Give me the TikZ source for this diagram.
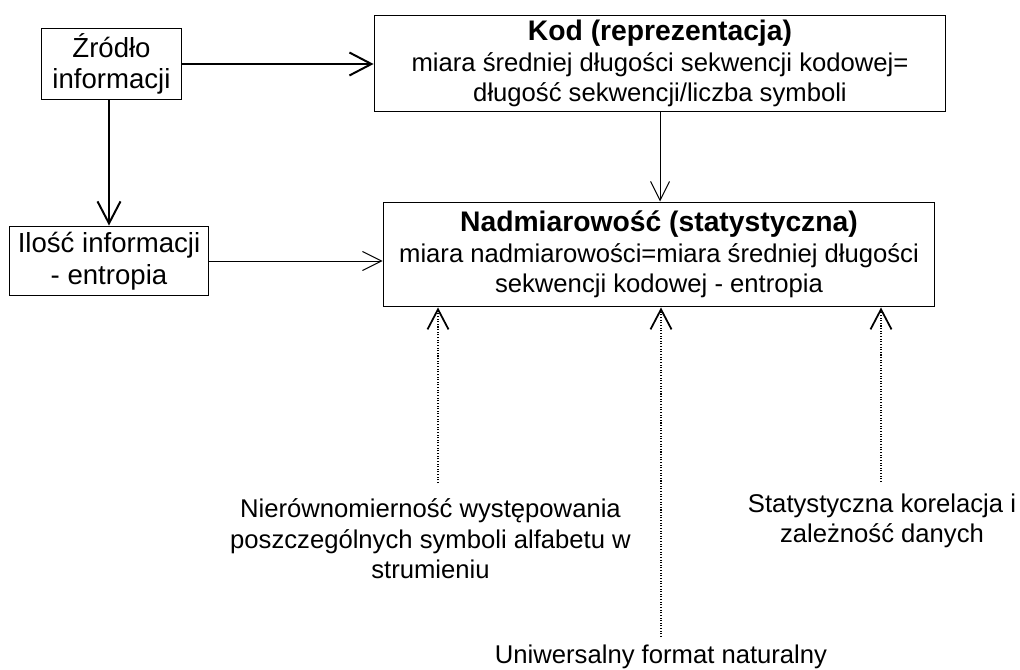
\documentclass[tikz,border=0pt]{standalone}
\usepackage{fontspec}
\setmainfont{Liberation Sans}
\usepackage{tikz}
\usetikzlibrary{arrows.meta,positioning}

\begin{document}
\begin{tikzpicture}[x=0.02cm,y=-0.02cm,
  box/.style={draw,line width=0.57pt,align=center,inner sep=0pt,
              font=\fontsize{14.6}{17.4}\selectfont},
  smallbox/.style={box,font=\fontsize{15.7}{18}\selectfont},
  lbl/.style={align=center,inner sep=0pt,font=\fontsize{14.6}{17.4}\selectfont},
  thickarr/.style={line width=1.13pt,-{Straight Barb[length=4.4mm,width=4.6mm]}},
  thinarr/.style={line width=0.57pt,-{Straight Barb[length=3.8mm,width=3.8mm]}},
  dotarr/.style={line width=0.6pt,dash pattern=on 0.6pt off 0.9pt,
                 -{Straight Barb[length=4mm,width=4.2mm,line width=1pt]}}]
 \newcommand{\boxtitle}[1]{\textbf{\fontsize{16.1}{17.4}\selectfont #1}}
 \useasboundingbox (0,0) rectangle (1020,669);
 \node[smallbox,minimum width=2.82cm,minimum height=1.44cm] (zrodlo) at (111.5,64)
   {Źródło\\informacji};
 \node[smallbox,minimum width=4cm,minimum height=1.4cm] (ilosc) at (109,261)
   {Ilość informacji\\- entropia};
 \node[box,minimum width=11.44cm,minimum height=1.94cm] (kod) at (660,63.5)
   {\boxtitle{Kod (reprezentacja)}\\miara średniej długości sekwencji kodowej=\\długość sekwencji/liczba symboli};
 \node[box,minimum width=11.04cm,minimum height=2.1cm] (nadmiar) at (659,254.5)
   {\boxtitle{Nadmiarowość (statystyczna)}\\miara nadmiarowości=miara średniej długości\\sekwencji kodowej - entropia};
 \node[lbl] (nierown) at (430.5,539)
   {Nierównomierność występowania\\poszczególnych symboli alfabetu w\\strumieniu};
 \node[lbl] (uniwers) at (661,657) {Uniwersalny format naturalny};
 \node[lbl] (korel) at (882,521) {Statystyczna korelacja i\\zależność danych};
 \coordinate (s1) at (438,483);
 \coordinate (s2) at (661,637);
 \coordinate (s3) at (881,482);
 \draw[thickarr] (zrodlo.east) -- (zrodlo.east -| kod.west);
 \draw[thickarr] (zrodlo.south -| ilosc.north) -- (ilosc.north);
 \draw[thinarr] (ilosc.east) -- (ilosc.east -| nadmiar.west);
 \draw[thinarr] (kod.south) -- (kod.south |- nadmiar.north);
 \draw[dotarr] (s1) -- (s1 |- nadmiar.south);
 \draw[dotarr] (s2) -- (s2 |- nadmiar.south);
 \draw[dotarr] (s3) -- (s3 |- nadmiar.south);
\end{tikzpicture}
\end{document}
